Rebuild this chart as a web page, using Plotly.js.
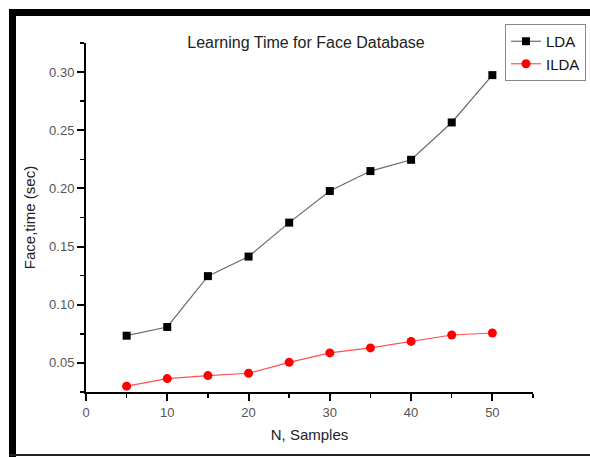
<!DOCTYPE html>
<html>
<head>
<meta charset="utf-8">
<script src="https://cdn.plot.ly/plotly-3.0.1.min.js"></script>
<style>html,body{margin:0;padding:0;background:#fff;}#chart{width:590px;height:457px;}</style>
</head>
<body>
<div id="chart"></div>
<script>
const samples = [5, 10, 15, 20, 25, 30, 35, 40, 45, 50];
const ldaTime = [0.0734, 0.0809, 0.1246, 0.1414, 0.1706, 0.1978, 0.2149, 0.2246, 0.2567, 0.2974];
const ildaTime = [0.0300, 0.0365, 0.0391, 0.0411, 0.0505, 0.0586, 0.0629, 0.0685, 0.0740, 0.0757];

const W = 590, H = 457;
const M = {l: 86, r: 57, t: 43, b: 65, autoexpand: false};
const pw = W - M.l - M.r, ph = H - M.t - M.b;
const px = v => (v - M.l) / pw;
const py = v => (H - M.b - v) / ph;

const traces = [
  {
    x: samples, y: ldaTime, name: 'LDA', type: 'scatter', mode: 'lines+markers',
    line: {color: '#6a6a6a', width: 1.2},
    marker: {symbol: 'square', size: 8, color: '#000'}
  },
  {
    x: samples, y: ildaTime, name: 'ILDA', type: 'scatter', mode: 'lines+markers',
    line: {color: '#ff5050', width: 1.2},
    marker: {symbol: 'circle', size: 9, color: '#ff0000'}
  }
];

const axisFont = {family: 'Liberation Sans, Arial, sans-serif', size: 13, color: '#555'};
const layout = {
  width: W, height: H,
  margin: M,
  paper_bgcolor: '#fff', plot_bgcolor: '#fff',
  font: {family: 'Liberation Sans, Arial, sans-serif', color: '#222'},
  title: {text: 'Learning Time for Face Database', font: {size: 16, color: '#222'},
          x: 306 / W, xanchor: 'center', y: 1 - 42 / H, yanchor: 'middle'},
  xaxis: {
    range: [0, 55], tick0: 0, dtick: 10, showgrid: false, zeroline: false,
    showline: true, linecolor: '#000', linewidth: 2,
    ticks: 'outside', ticklen: 7, tickwidth: 2, tickcolor: '#000',
    tickfont: axisFont,
    minor: {dtick: 5, ticks: 'outside', ticklen: 4, tickwidth: 1.5, tickcolor: '#000', showgrid: false},
    title: {text: 'N, Samples', font: {size: 15, color: '#222'}, standoff: 11}
  },
  yaxis: {
    range: [0.025, 0.325], tick0: 0, dtick: 0.05, tickformat: '.2f', showgrid: false, zeroline: false,
    showline: true, linecolor: '#000', linewidth: 2,
    ticks: 'outside', ticklen: 7, tickwidth: 2, tickcolor: '#000',
    tickfont: axisFont,
    minor: {dtick: 0.025, ticks: 'outside', ticklen: 4, tickwidth: 1.5, tickcolor: '#000', showgrid: false},
    title: {text: 'Face,time (sec)', font: {size: 15, color: '#222'}, standoff: 10}
  },
  showlegend: true,
  legend: {
    x: px(505), y: py(24), xanchor: 'left', yanchor: 'top',
    bgcolor: '#fff', bordercolor: '#888', borderwidth: 1,
    font: {size: 15, color: '#111'}, itemwidth: 30, tracegroupgap: 0
  },
  shapes: [
    {type: 'rect', xref: 'paper', yref: 'paper', x0: px(9), x1: px(16), y0: py(9), y1: py(H), fillcolor: '#000', line: {width: 0}},
    {type: 'rect', xref: 'paper', yref: 'paper', x0: px(9), x1: px(W), y0: py(9), y1: py(16), fillcolor: '#000', line: {width: 0}},
    {type: 'rect', xref: 'paper', yref: 'paper', x0: px(9), x1: px(W), y0: py(454), y1: py(456), fillcolor: '#222', line: {width: 0}}
  ]
};

Plotly.newPlot('chart', traces, layout, {displayModeBar: false, staticPlot: true});
</script>
</body>
</html>
